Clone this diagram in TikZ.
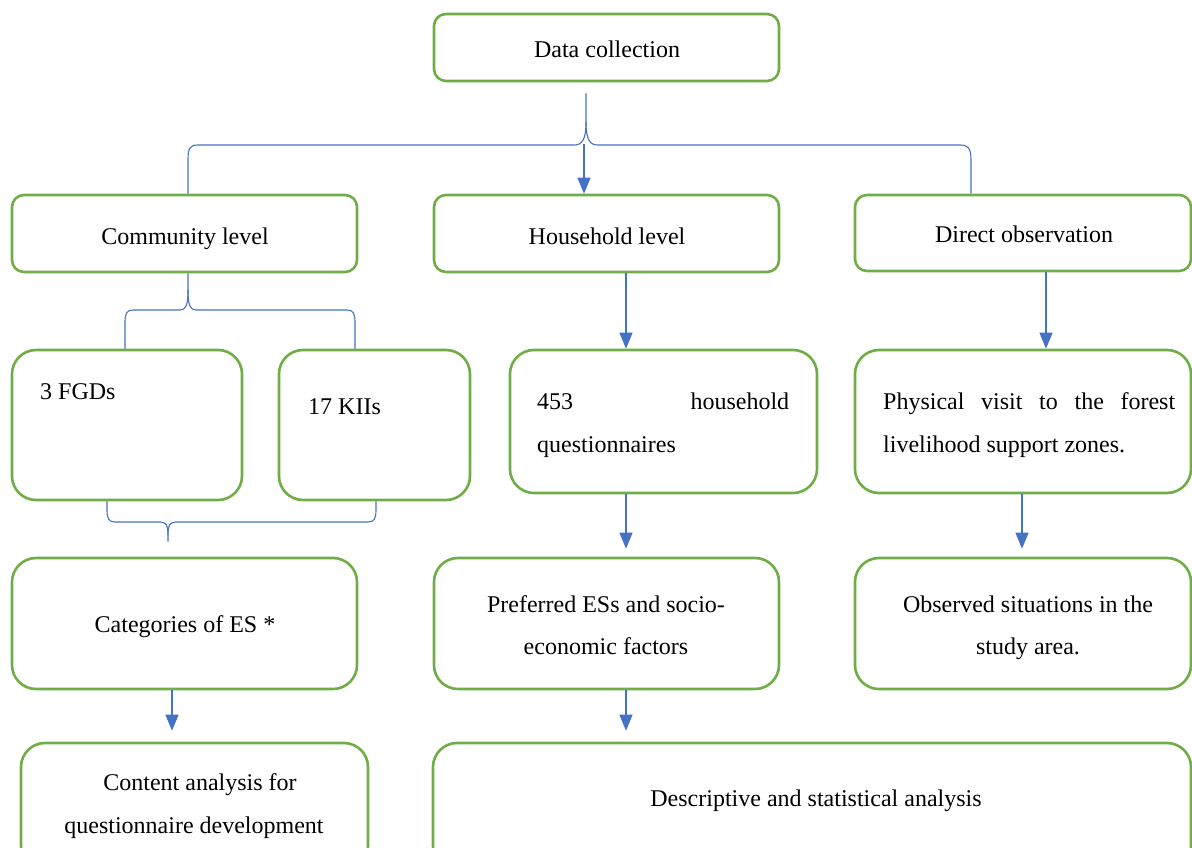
\documentclass[tikz,border=0pt]{standalone}
\usepackage{fontspec}
\setmainfont{Liberation Serif}
\usetikzlibrary{arrows.meta}
\definecolor{boxgreen}{HTML}{70AD47}
\definecolor{linkblue}{HTML}{4472C4}
\begin{document}
\begin{tikzpicture}[x=1pt,y=-1pt,
  box/.style={draw=boxgreen,line width=2.6pt,rounded corners=12pt,inner sep=0pt},
  bigbox/.style={box,rounded corners=24pt},
  txt/.style={inner sep=0pt,anchor=base,font=\fontsize{24}{43}\selectfont},
  ltxt/.style={txt,anchor=base west},
  brace/.style={draw=linkblue,line width=1.1pt},
  arr/.style={draw=linkblue,line width=1.1pt,-{Triangle[length=16pt,width=13pt]}}]
\useasboundingbox (0,0) rectangle (1192,848);
\clip (0,0) rectangle (1192,848);
% boxes
\node[box,minimum width=345pt,minimum height=67pt] (dc) at (606.5,47.5) {};
\node[box,minimum width=345pt,minimum height=77pt] (cl) at (184.5,233.5) {};
\node[box,minimum width=345pt,minimum height=77pt] (hl) at (606.5,233.5) {};
\node[box,minimum width=336pt,minimum height=76pt] (do) at (1023,233) {};
\node[bigbox,minimum width=230pt,minimum height=150pt] (fgd) at (127,425) {};
\node[bigbox,minimum width=191pt,minimum height=150pt] (kii) at (374.5,425) {};
\node[bigbox,minimum width=307pt,minimum height=143pt] (hq) at (663.5,421.5) {};
\node[bigbox,minimum width=336pt,minimum height=143pt] (pv) at (1023,421.5) {};
\node[bigbox,minimum width=345pt,minimum height=131pt] (cat) at (184.5,623.5) {};
\node[bigbox,minimum width=345pt,minimum height=131pt] (pref) at (606.5,623.5) {};
\node[bigbox,minimum width=336pt,minimum height=131pt] (obs) at (1023,623.5) {};
\node[bigbox,minimum width=347pt,minimum height=127pt] (ca) at (194.5,806.5) {};
\node[bigbox,minimum width=758pt,minimum height=127pt] (da) at (812,806.5) {};
% texts
\node[txt] (t-dc) at (607,58) {Data collection};
\node[txt] (t-cl) at (185,244) {Community level};
\node[txt] (t-hl) at (607,244) {Household level};
\node[txt] (t-do) at (1024,242) {Direct observation};
\node[ltxt] (t-fgd) at (40,399) {3 FGDs};
\node[ltxt] (t-kii) at (308,414) {17 KIIs};
\node[ltxt] (t-hq1) at (537,409) {\makebox[252pt][s]{453 household}};
\node[ltxt] (t-hq2) at (537,452) {questionnaires};
\node[ltxt] (t-pv1) at (883,409) {\makebox[292pt][s]{Physical visit to the forest}};
\node[ltxt] (t-pv2) at (883,452) {livelihood support zones.};
\node[txt] (t-cat) at (185,632) {Categories of ES *};
\node[txt] (t-pref1) at (606,612) {Preferred ESs and socio-};
\node[txt] (t-pref2) at (606,654) {economic factors};
\node[txt] (t-obs1) at (1028,612) {Observed situations in the};
\node[txt] (t-obs2) at (1028,654) {study area.};
\node[txt] (t-ca1) at (200,790) {Content analysis for};
\node[txt] (t-ca2) at (194,833) {questionnaire development};
\node[txt] (t-da) at (816,806) {Descriptive and statistical analysis};
% top brace
\draw[brace] ([xshift=3.5pt]cl.north) -- (188,160) .. controls (188,148) and (190,145) .. (198,145)
  -- (574,145) .. controls (582,145) and (586,140) .. (586,122) -- ([xshift=-20.5pt,yshift=-11pt]dc.south);
\draw[brace] (586,122) .. controls (586,140) and (590,145) .. (598,145)
  -- (960,145) .. controls (968,145) and (971,148) .. (971,160) -- ([xshift=-52pt]do.north);
\draw[arr] ([xshift=-22.5pt]dc.south) ++(0,62) -- ([xshift=-22.5pt]hl.north);
% community brace
\draw[brace] ([xshift=3.5pt]cl.south) -- (188,290) .. controls (188,305) and (186,310) .. (180,310)
  -- (133,310) .. controls (127,310) and (125,313) .. (125,322) -- ([xshift=-2pt]fgd.north);
\draw[brace] (188,290) .. controls (188,305) and (190,310) .. (196,310)
  -- (347,310) .. controls (353,310) and (355,313) .. (355,322) -- ([xshift=-19.5pt]kii.north);
% lower brace
\draw[brace] ([xshift=-20pt]fgd.south) -- (107,510) .. controls (107,519) and (109,522) .. (115,522)
  -- (160,522) .. controls (166,522) and (168,525) .. (168,535) -- ([xshift=-16.5pt,yshift=15pt]cat.north);
\draw[brace] (168,535) .. controls (168,525) and (170,522) .. (176,522)
  -- (368,522) .. controls (374,522) and (376,519) .. (376,510) -- ([xshift=1.5pt]kii.south);
% arrows
\draw[arr] ([xshift=19.5pt]hl.south) -- ([xshift=-37.5pt]hq.north);
\draw[arr] ([xshift=23pt]do.south) -- ([xshift=23pt]pv.north);
\draw[arr,shorten >=8pt] ([xshift=-37.5pt]hq.south) -- ([xshift=19.5pt]pref.north);
\draw[arr,shorten >=8pt] ([xshift=-1pt]pv.south) -- ([xshift=-1pt]obs.north);
\draw[arr,shorten >=11pt] ([xshift=-12.5pt]cat.south) -- ([xshift=-22.5pt]ca.north);
\draw[arr,shorten >=11pt] ([xshift=19.5pt]pref.south) -- ([xshift=-186pt]da.north);
\end{tikzpicture}
\end{document}
